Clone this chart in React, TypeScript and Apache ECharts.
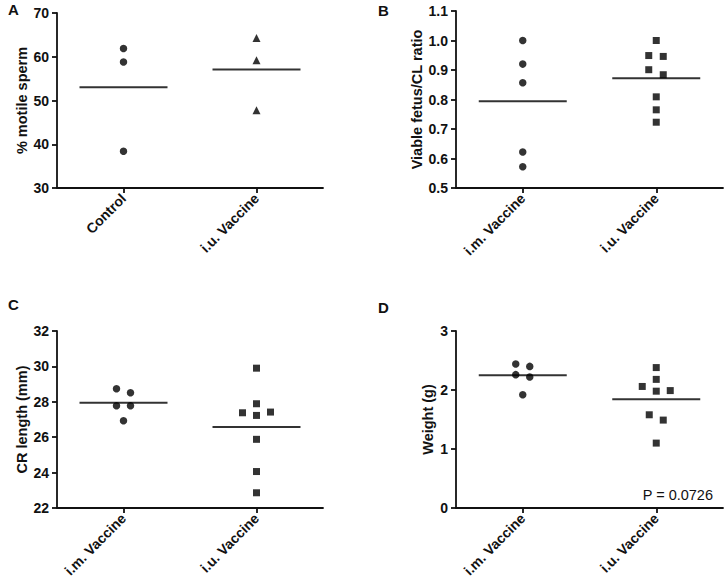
import React, { useEffect, useRef } from "react";
import * as echarts from "echarts";

// ---- data ----
const catsA = ["Control", "i.u. Vaccine"];
const catsB = ["i.m. Vaccine", "i.u. Vaccine"];
const catsC = ["i.m. Vaccine", "i.u. Vaccine"];
const catsD = ["i.m. Vaccine", "i.u. Vaccine"];

const motileControl = [61.9, 58.8, 38.4];
const motileIU = [64.3, 59.2, 47.8];
const ratioIM = [1.0, 0.92, 0.857, 0.622, 0.572];
const ratioIU = [1.0, 0.949, 0.946, 0.901, 0.884, 0.809, 0.765, 0.723];
const crIM = [28.74, 28.51, 27.78, 27.78, 26.93];
const crIU = [29.9, 27.89, 27.38, 27.42, 27.23, 25.88, 24.06, 22.86];
const weightIM = [2.44, 2.4, 2.26, 2.22, 1.92];
const weightIU = [2.38, 2.18, 2.06, 1.98, 1.99, 1.58, 1.49, 1.1];

// y-axis ranges [min, max, interval]
const rangeA = [30, 70, 10];
const rangeB = [0.5, 1.1, 0.1];
const rangeC = [22, 32, 2];
const rangeD = [0, 3, 1];

const titleA = "% motile sperm";
const titleB = "Viable fetus/CL ratio";
const titleC = "CR length (mm)";
const titleD = "Weight (g)";
const pValueText = "P = 0.0726";

// ---- layout (horizontal jitter of dots, px) ----
const jitA0 = [0, 0, 0];
const jitA1 = [0, 0, 0];
const jitB0 = [0, 0, 0, 0, 0];
const jitB1 = [0, -7.5, 7, -7.5, 7, 0, 0, 0];
const jitC0 = [-7, 7, -7, 7, 0];
const jitC1 = [0, 0, -14, 14, 0, 0, 0, 0];
const jitD0 = [-7, 7, -7, 7, 0];
const jitD1 = [0, 0, -14, 0, 14, -7, 7, 0];

const FONT = '"Liberation Sans", Arial, Helvetica, sans-serif';

const mean = (a: number[]) => a.reduce((s, v) => s + v, 0) / a.length;

function panel(
  idx: number,
  grid: any,
  cats: string[],
  range: number[],
  title: string,
  nameGap: number,
  decimals: number,
  groups: { values: number[]; jit: number[]; symbol: string; size: number }[]
) {
  const xAxis = {
    type: "category",
    gridIndex: idx,
    data: cats,
    boundaryGap: true,
    axisLine: { show: true, onZero: false, lineStyle: { color: "#111", width: 1.8 } },
    axisTick: { show: true, alignWithLabel: true, length: 5, lineStyle: { color: "#111", width: 1.8 } },
    axisLabel: {
      rotate: 45,
      margin: 8,
      color: "#111",
      fontWeight: "bold",
      fontSize: 14,
      fontFamily: FONT,
      interval: 0,
    },
    splitLine: { show: false },
  };
  const yAxis = {
    type: "value",
    gridIndex: idx,
    min: range[0],
    max: range[1],
    interval: range[2],
    name: title,
    nameLocation: "middle",
    nameGap,
    nameTextStyle: { color: "#111", fontWeight: "bold", fontSize: 14.5, fontFamily: FONT },
    axisLine: { show: true, onZero: false, lineStyle: { color: "#111", width: 1.8 } },
    axisTick: { show: true, length: 5, lineStyle: { color: "#111", width: 1.8 } },
    axisLabel: {
      margin: 8,
      color: "#111",
      fontWeight: "bold",
      fontSize: 14,
      fontFamily: FONT,
      formatter: (v: number) => v.toFixed(decimals),
    },
    splitLine: { show: false },
  };
  const series: any[] = [];
  groups.forEach((g, gi) => {
    series.push({
      type: "scatter",
      xAxisIndex: idx,
      yAxisIndex: idx,
      symbol: g.symbol,
      symbolSize: g.size,
      itemStyle: { color: "#000" },
      data: g.values.map((v, i) => ({ value: [gi, v], symbolOffset: [g.jit[i] || 0, 0] })),
      z: 3,
    });
    series.push({
      type: "scatter",
      xAxisIndex: idx,
      yAxisIndex: idx,
      symbol: "rect",
      symbolSize: [88, 2],
      itemStyle: { color: "#000" },
      data: [[gi, mean(g.values)]],
      z: 2,
    });
  });
  return { grid: { ...grid, containLabel: false, outerBoundsMode: "none" }, xAxis, yAxis, series };
}

export default function App() {
  const ref = useRef<HTMLDivElement>(null);
  useEffect(() => {
    document.body.style.margin = "0";
    if (!ref.current) return;
    const chart = echarts.init(ref.current, null, { renderer: "svg" });
    const panels = [
      panel(0, { left: 57, top: 13, width: 266, height: 175 }, catsA, rangeA, titleA, 27, 0, [
        { values: motileControl, jit: jitA0, symbol: "circle", size: 7.5 },
        { values: motileIU, jit: jitA1, symbol: "triangle", size: 8 },
      ]),
      panel(1, { left: 456, top: 11, width: 267, height: 177 }, catsB, rangeB, titleB, 30, 1, [
        { values: ratioIM, jit: jitB0, symbol: "circle", size: 7.5 },
        { values: ratioIU, jit: jitB1, symbol: "rect", size: 7 },
      ]),
      panel(2, { left: 57, top: 331, width: 266, height: 177 }, catsC, rangeC, titleC, 27, 0, [
        { values: crIM, jit: jitC0, symbol: "circle", size: 7.5 },
        { values: crIU, jit: jitC1, symbol: "rect", size: 7 },
      ]),
      panel(3, { left: 456, top: 331, width: 267, height: 177 }, catsD, rangeD, titleD, 21, 0, [
        { values: weightIM, jit: jitD0, symbol: "circle", size: 7.5 },
        { values: weightIU, jit: jitD1, symbol: "rect", size: 7 },
      ]),
    ];
    const letter = (t: string, x: number, y: number) => ({
      type: "text",
      x,
      y,
      style: { text: t, fill: "#111", font: `bold 15px ${FONT}` },
    });
    chart.setOption({
      animation: false,
      backgroundColor: "#fff",
      grid: panels.map((p) => p.grid),
      xAxis: panels.map((p) => p.xAxis),
      yAxis: panels.map((p) => p.yAxis),
      series: panels.flatMap((p) => p.series),
      graphic: [
        letter("A", 8, 2),
        letter("B", 378, 3),
        letter("C", 8, 297),
        letter("D", 378, 300),
        {
          type: "text",
          x: 713,
          y: 487,
          style: { text: pValueText, fill: "#111", font: `14.5px ${FONT}`, textAlign: "right" },
        },
      ],
    });
    return () => chart.dispose();
  }, []);
  return <div ref={ref} style={{ width: 726, height: 582 }} />;
}
